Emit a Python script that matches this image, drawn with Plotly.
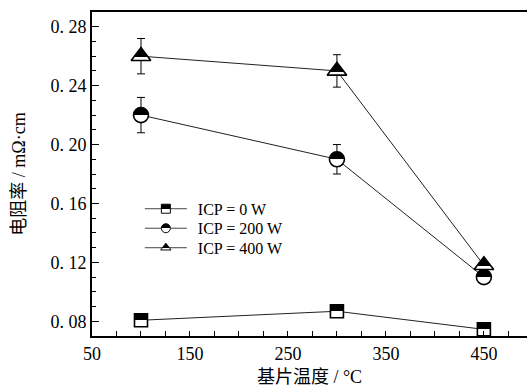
import plotly.graph_objects as go

temps = [100, 300, 450]
icp0 = [0.0807, 0.0868, 0.0745]
icp200 = [0.220, 0.190, 0.110]
icp200_err = [0.012, 0.010, 0.0]
icp400 = [0.260, 0.250, 0.118]
icp400_err = [0.012, 0.011, 0.0]
names = ["ICP = 0 W", "ICP = 200 W", "ICP = 400 W"]

y_tickvals = [0.08, 0.12, 0.16, 0.20, 0.24, 0.28]
y_ticktext = ["0.\u00a008", "0.\u00a012", "0.\u00a016", "0.\u00a020", "0.\u00a024", "0.\u00a028"]
x_tickvals = [50, 150, 250, 350, 450]

SERIF = "Liberation Serif, Noto Sans CJK SC, serif"

fig = go.Figure()

def add(y, err, name, symbol, size):
    fig.add_trace(go.Scatter(
        x=temps, y=y, name=name, mode="lines+markers",
        line=dict(color="#222", width=1),
        marker=dict(symbol=symbol, size=size, color="white",
                    line=dict(color="black", width=1.6)),
        error_y=(dict(type="data", array=err, visible=True, color="black",
                      thickness=1, width=4) if err is not None else None),
        cliponaxis=True,
    ))

add(icp0, None, names[0], "square", 13)
add(icp200, icp200_err, names[1], "circle", 15)
add(icp400, icp400_err, names[2], "triangle-up", 17)

fig.update_layout(
    width=527, height=390,
    margin=dict(l=92, r=0, t=12, b=54),
    plot_bgcolor="white", paper_bgcolor="white",
    font=dict(family=SERIF, size=18, color="black"),
    showlegend=True,
    legend=dict(x=0.11, y=0.445, xanchor="left", yanchor="top",
                bgcolor="rgba(0,0,0,0)", font=dict(size=16),
                itemwidth=42, itemsizing="constant", tracegroupgap=0),
    xaxis=dict(range=[50, 494], tickvals=x_tickvals, ticks="inside", ticklen=5,
               tickwidth=1, tickcolor="black",
               minor=dict(dtick=25, tick0=50, ticks="inside", ticklen=5, tickcolor="black"),
               showline=True, linecolor="black", linewidth=2, mirror=True,
               showgrid=False, zeroline=False,
               title=dict(text="基片温度 / °C", standoff=8, font=dict(size=18))),
    yaxis=dict(range=[0.07, 0.29], tickvals=y_tickvals, ticktext=y_ticktext,
               ticks="inside", ticklen=7, tickwidth=1, tickcolor="black",
               minor=dict(dtick=0.01, tick0=0.07, ticks="inside", ticklen=4, tickcolor="black"),
               showline=True, linecolor="black", linewidth=2,
               showgrid=False, zeroline=False,
               title=dict(text="电阻率 / mΩ·cm", standoff=20, font=dict(size=18))),
)

post_js = r"""
document.body.style.margin = '0';
var gd = document.getElementById('{plot_id}');
var svgNS = 'http://www.w3.org/2000/svg';
var svg = gd.querySelector('svg.main-svg');
var defs = svg.querySelector('defs');
if (!defs) { defs = document.createElementNS(svgNS, 'defs'); svg.insertBefore(defs, svg.firstChild); }
function mk(id, f) {
  var lg = document.createElementNS(svgNS, 'linearGradient');
  lg.setAttribute('id', id);
  lg.setAttribute('x1', '0'); lg.setAttribute('y1', '0');
  lg.setAttribute('x2', '0'); lg.setAttribute('y2', '1');
  [[0, 'black'], [f, 'black'], [f, 'white'], [1, 'white']].forEach(function(s) {
    var st = document.createElementNS(svgNS, 'stop');
    st.setAttribute('offset', String(s[0]));
    st.setAttribute('stop-color', s[1]);
    lg.appendChild(st);
  });
  defs.appendChild(lg);
}
mk('halfA', 0.5); mk('halfB', 0.5); mk('halfC', 0.72);
var fr = ['halfA', 'halfB', 'halfC'];
gd.querySelectorAll('.scatterlayer .trace').forEach(function(tr, i) {
  tr.querySelectorAll('path.point').forEach(function(p) { p.style.fill = 'url(#' + fr[i] + ')'; });
});
var y0 = null;
gd.querySelectorAll('.legend .traces').forEach(function(tr, i) {
  tr.querySelectorAll('path.scatterpts').forEach(function(p) {
    p.style.fill = 'url(#' + fr[i] + ')';
    p.style.strokeWidth = '1.3px';
    var t = p.getAttribute('transform') || '';
    p.setAttribute('transform', t + ' scale(0.75)');
  });
  tr.querySelectorAll('path.js-line').forEach(function(p) {
    p.style.strokeWidth = '1px';
    p.style.stroke = '#444';
  });
  tr.querySelectorAll('text.legendtext').forEach(function(t) {
    t.setAttribute('x', String(parseFloat(t.getAttribute('x')) + 6));
    t.querySelectorAll('tspan').forEach(function(s) {
      if (s.getAttribute('x')) s.setAttribute('x', String(parseFloat(s.getAttribute('x')) + 6));
    });
  });
  var m = /translate\(\s*([-\d.]+)[ ,]+([-\d.]+)\s*\)/.exec(tr.getAttribute('transform') || '');
  if (m) {
    if (y0 === null) y0 = parseFloat(m[2]);
    tr.setAttribute('transform', 'translate(' + m[1] + ',' + (y0 + i * 19.5) + ')');
  }
});
"""

fig.write_html("out.html", post_script=post_js, config={"displayModeBar": False})
